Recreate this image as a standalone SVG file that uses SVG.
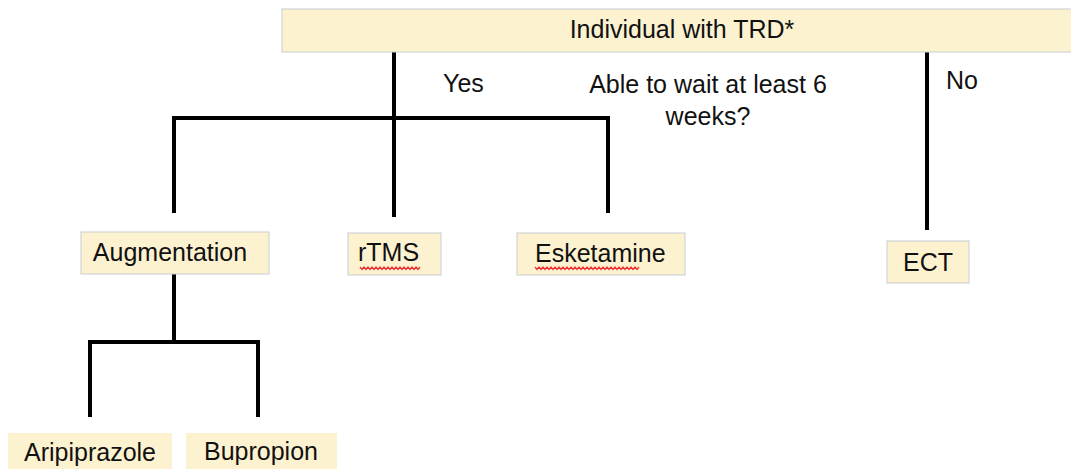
<svg xmlns="http://www.w3.org/2000/svg" width="1071" height="469" viewBox="0 0 1071 469">
<style>
.box{fill:#fdf2d0;stroke:#c9ccd3;stroke-width:1}
.nb{fill:#fdf2d0}
.t{font-family:"Liberation Sans",Arial,sans-serif;font-size:25px;fill:#111}
.c{stroke:#000;stroke-width:4;fill:none}
.sp{stroke:#e33;stroke-width:1.3;fill:none}
</style>
<rect width="1071" height="469" fill="#fff"/>
<g id="connectors">
<path class="c" d="M394 52V217"/>
<path class="c" d="M174 213V118H608V213"/>
<path class="c" d="M927 52V230"/>
<path class="c" d="M174 274V342"/>
<path class="c" d="M90 417V342H258V417"/>
</g>
<g id="trd"><rect class="box" x="282" y="9" width="795" height="43"/><text class="t" x="682" y="38" text-anchor="middle">Individual with TRD*</text></g>
<g id="q"><text class="t" x="443" y="92">Yes</text><text class="t" x="708" y="93" text-anchor="middle">Able to wait at least 6</text><text class="t" x="708" y="125" text-anchor="middle">weeks?</text><text class="t" x="946" y="89">No</text></g>
<g id="augmentation"><rect class="box" x="81" y="232" width="188" height="42"/><text class="t" x="170" y="261" text-anchor="middle">Augmentation</text></g>
<g id="rtms"><rect class="box" x="348" y="233" width="93" height="42"/><text class="t" x="358" y="261">rTMS</text><path class="sp" d="M360 267l2 2.5 2-2.5 2 2.5 2-2.5 2 2.5 2-2.5 2 2.5 2-2.5 2 2.5 2-2.5 2 2.5 2-2.5 2 2.5 2-2.5 2 2.5 2-2.5 2 2.5 2-2.5 2 2.5 2-2.5 2 2.5 2-2.5 2 2.5 2-2.5 2 2.5 2-2.5 2 2.5 2-2.5 2 2.5 2-2.5"/></g>
<g id="esketamine"><rect class="box" x="517" y="233" width="168" height="42"/><text class="t" x="535" y="262">Esketamine</text><path class="sp" d="M535 267l2 2.5 2-2.5 2 2.5 2-2.5 2 2.5 2-2.5 2 2.5 2-2.5 2 2.5 2-2.5 2 2.5 2-2.5 2 2.5 2-2.5 2 2.5 2-2.5 2 2.5 2-2.5 2 2.5 2-2.5 2 2.5 2-2.5 2 2.5 2-2.5 2 2.5 2-2.5 2 2.5 2-2.5 2 2.5 2-2.5 2 2.5 2-2.5 2 2.5 2-2.5 2 2.5 2-2.5 2 2.5 2-2.5 2 2.5 2-2.5 2 2.5 2-2.5 2 2.5 2-2.5 2 2.5 2-2.5 2 2.5 2-2.5 2 2.5 2-2.5 2 2.5 2-2.5"/></g>
<g id="ect"><rect class="box" x="887" y="241" width="82" height="42"/><text class="t" x="928" y="271" text-anchor="middle">ECT</text></g>
<g id="aripiprazole"><rect class="nb" x="8" y="433" width="164" height="40"/><text class="t" x="90" y="461" text-anchor="middle">Aripiprazole</text></g>
<g id="bupropion"><rect class="nb" x="186" y="433" width="151" height="40"/><text class="t" x="261" y="460" text-anchor="middle">Bupropion</text></g>
</svg>
